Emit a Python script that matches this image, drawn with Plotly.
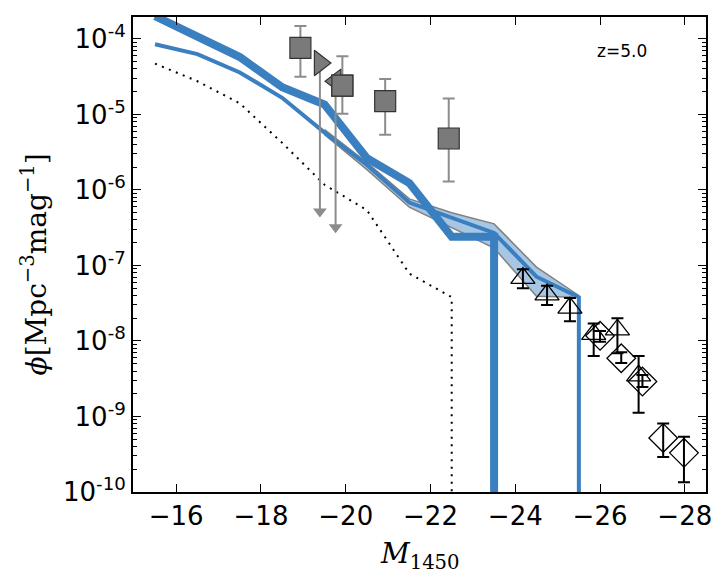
import numpy as np
import plotly.graph_objects as go

# ---------------- data ----------------
# model curves
M_thick = [-15.5, -16.5, -17.5, -18.5, -19.5, -20.5, -21.5, -22.5, -23.5, -23.5]
phi_thick = [2.0e-4, 1.07e-4, 5.75e-5, 2.29e-5, 1.35e-5, 2.63e-6, 1.23e-6, 2.4e-7, 2.4e-7, 1e-12]

M_thin = [-15.5, -16.5, -17.5, -18.5, -19.5, -20.5, -21.5, -22.5, -23.5, -24.5, -25.5, -25.5]
phi_thin = [8.5e-5, 6.3e-5, 3.6e-5, 1.66e-5, 5.75e-6, 2.14e-6, 6.8e-7, 4.3e-7, 2.7e-7, 7.1e-8, 3.8e-8, 1e-12]

M_band = [-19.5, -20.5, -21.5, -22.5, -23.5, -24.5, -25.5]
phi_band_hi = [6.3e-6, 2.3e-6, 7.6e-7, 5.0e-7, 3.55e-7, 9.5e-8, 4.0e-8]
phi_band_lo = [5.4e-6, 1.86e-6, 5.9e-7, 3.2e-7, 1.7e-7, 3.9e-8, 3.8e-8]

M_dot = [-15.5, -16.5, -17.5, -18.5, -19.5, -20.5, -21.5, -22.5, -22.5]
phi_dot = [4.7e-5, 2.75e-5, 1.4e-5, 4.2e-6, 1.17e-6, 5.4e-7, 7.8e-8, 3.8e-8, 1e-12]

# grey squares with error bars
M_sq = [-18.93, -19.92, -20.93, -22.43]
phi_sq = [7.6e-5, 2.4e-5, 1.5e-5, 4.8e-6]
phi_sq_hi = [1.48e-4, 5.9e-5, 2.95e-5, 1.62e-5]
phi_sq_lo = [3.16e-5, 1.02e-5, 5.4e-6, 1.29e-6]

# grey upper limits (triangles with arrows)
M_lim_r = [-19.39]
phi_lim_r = [4.8e-5]
M_lim_l = [-19.76]
phi_lim_l = [2.75e-5]
M_lim = [-19.39, -19.76]
phi_lim_top = [4.8e-5, 2.75e-5]
phi_lim_end = [5.2e-7, 3.2e-7]

# black open triangles
M_tri = [-24.18, -24.75, -25.29, -25.85, -26.41, -26.91]
phi_tri = [6.8e-8, 4.1e-8, 2.75e-8, 1.23e-8, 1.41e-8, 3.47e-9]
phi_tri_hi = [8.9e-8, 5.4e-8, 3.7e-8, 1.7e-8, 2.0e-8, 6.3e-9]
phi_tri_lo = [5.0e-8, 3.0e-8, 1.82e-8, 6.3e-9, 6.9e-9, 1.12e-9]

# black open diamonds
M_dia = [-26.0, -26.5, -27.0, -27.49, -27.98]
phi_dia = [1.17e-8, 5.9e-9, 2.9e-9, 5.2e-10, 3.3e-10]
phi_dia_hi = [1.35e-8, 7.1e-9, 3.55e-9, 8.1e-10, 5.4e-10]
phi_dia_lo = [9.8e-9, 5.1e-9, 2.45e-9, 2.9e-10, 1.35e-10]

x_ticks = [-16, -18, -20, -22, -24, -26, -28]
x_ticktext = ["\u221216", "\u221218", "\u221220", "\u221222", "\u221224", "\u221226", "\u221228"]
y_exps = [-10, -9, -8, -7, -6, -5, -4]
label_z = "z=5.0"

# ---------------- figure ----------------
BLUE = "#3a7fc0"
GREY = "#808080"

def err(v, hi, lo):
    v = np.array(v); hi = np.array(hi); lo = np.array(lo)
    return dict(type="data", symmetric=False, array=hi - v, arrayminus=v - lo)

fig = go.Figure()

# band
fig.add_trace(go.Scatter(x=M_band, y=phi_band_hi, mode="lines",
                         line=dict(color=GREY, width=1.5), showlegend=False))
fig.add_trace(go.Scatter(x=M_band, y=phi_band_lo, mode="lines", fill="tonexty",
                         fillcolor="rgba(58,128,192,0.45)",
                         line=dict(color=GREY, width=1.5), showlegend=False))
# dotted
fig.add_trace(go.Scatter(x=M_dot, y=phi_dot, mode="lines",
                         line=dict(color="black", width=2, dash="2px,5.5px"), showlegend=False))
# thin blue
fig.add_trace(go.Scatter(x=M_thin, y=phi_thin, mode="lines",
                         line=dict(color=BLUE, width=4), showlegend=False))
# thick blue
fig.add_trace(go.Scatter(x=M_thick, y=phi_thick, mode="lines",
                         line=dict(color=BLUE, width=8), showlegend=False))

# arrows for upper limits
for m, top, end in zip(M_lim, phi_lim_top, phi_lim_end):
    fig.add_trace(go.Scatter(x=[m, m], y=[top, end], mode="lines",
                             line=dict(color="#8c8c8c", width=2), showlegend=False))
fig.add_trace(go.Scatter(x=M_lim, y=phi_lim_end, mode="markers",
                         marker=dict(symbol="triangle-down", size=12, color="#8c8c8c",
                                     line=dict(width=0)), showlegend=False))

# grey squares
fig.add_trace(go.Scatter(x=M_sq, y=phi_sq, mode="markers",
                         error_y=dict(**err(phi_sq, phi_sq_hi, phi_sq_lo), color="#8c8c8c",
                                      thickness=2, width=6),
                         marker=dict(symbol="square", size=21, color="#7a7a7a",
                                     line=dict(color="#333333", width=1.2)), showlegend=False))
# grey triangles
fig.add_trace(go.Scatter(x=M_lim_l, y=phi_lim_l, mode="markers",
                         marker=dict(symbol="triangle-left", size=21, color="#7a7a7a",
                                     line=dict(color="#333333", width=1.2)), showlegend=False))
fig.add_trace(go.Scatter(x=M_lim_r, y=phi_lim_r, mode="markers",
                         marker=dict(symbol="triangle-right", size=22, color="#7a7a7a",
                                     line=dict(color="#333333", width=1.2)), showlegend=False))
# redraw the square that overlaps the left triangle on top
fig.add_trace(go.Scatter(x=[M_sq[1]], y=[phi_sq[1]], mode="markers",
                         marker=dict(symbol="square", size=21, color="#7a7a7a",
                                     line=dict(color="#333333", width=1.2)), showlegend=False))

# black triangles
fig.add_trace(go.Scatter(x=M_tri, y=phi_tri, mode="markers",
                         error_y=dict(**err(phi_tri, phi_tri_hi, phi_tri_lo), color="black",
                                      thickness=2, width=6),
                         marker=dict(symbol="triangle-up-open", size=21, color="black",
                                     line=dict(color="black", width=1.3)), showlegend=False))
# black diamonds
fig.add_trace(go.Scatter(x=M_dia, y=phi_dia, mode="markers",
                         error_y=dict(**err(phi_dia, phi_dia_hi, phi_dia_lo), color="black",
                                      thickness=2, width=6),
                         marker=dict(symbol="diamond-open", size=22, color="black",
                                     line=dict(color="black", width=1.3)), showlegend=False))

minor_vals = [k * 10.0 ** e for e in range(-11, -3) for k in range(2, 10)]

fig.update_layout(
    width=727, height=580,
    margin=dict(l=133, r=21, t=17, b=88),
    paper_bgcolor="white", plot_bgcolor="white",
    font=dict(family="DejaVu Sans", size=26, color="black"),
    showlegend=False,
    xaxis=dict(range=[-14.98, -28.5], tickmode="array", tickvals=x_ticks, ticktext=x_ticktext,
               ticks="inside", ticklen=8, tickwidth=1, tickcolor="black",
               showline=True, linewidth=2, linecolor="black", mirror="allticks",
               showgrid=False, zeroline=False, tickfont=dict(size=26)),
    yaxis=dict(type="log", range=[-10, -3.71], tickmode="array",
               tickvals=[10.0 ** e for e in y_exps],
               ticktext=["10<sup>-%d</sup>" % (-e) for e in y_exps],
               ticks="inside", ticklen=8, tickwidth=1, tickcolor="black",
               minor=dict(tickmode="array", tickvals=minor_vals, ticks="inside",
                          ticklen=4, tickwidth=1, tickcolor="black", showgrid=False),
               showline=True, linewidth=2, linecolor="black", mirror="allticks",
               showgrid=False, zeroline=False, tickfont=dict(size=26)),
)

fig.add_annotation(text=label_z, xref="paper", yref="paper", x=0.853, y=0.928,
                   xanchor="center", yanchor="middle", showarrow=False,
                   font=dict(family="DejaVu Sans", size=17, color="black"))
fig.add_annotation(text="<i>\u03d5</i>[Mpc<sup>\u22123</sup>mag<sup>\u22121</sup>]",
                   xref="paper", yref="paper", x=-0.172, y=0.48, textangle=-90,
                   xanchor="center", yanchor="middle", showarrow=False,
                   font=dict(family="DejaVu Serif", size=28, color="black"))
fig.add_annotation(text="<i>M</i><sub>1450</sub>", xref="paper", yref="paper",
                   x=0.5, y=-0.09, xanchor="center", yanchor="top", showarrow=False,
                   font=dict(family="DejaVu Serif", size=28, color="black"))

fig.write_html("out.html")
